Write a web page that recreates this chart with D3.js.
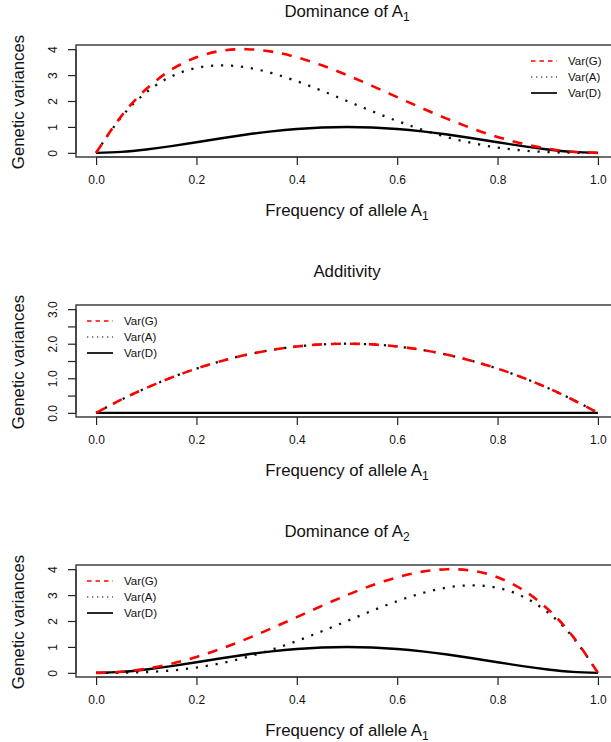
<!DOCTYPE html>
<html>
<head>
<meta charset="utf-8">
<script src="https://cdn.jsdelivr.net/npm/d3@7"></script>
<style>
  body { margin: 0; background: #fff; }
  svg { display: block; font-family: "Liberation Sans", Arial, sans-serif; }
</style>
</head>
<body>
<svg id="chart" width="611" height="742"></svg>
<script>
// ---- Data ----
const freq = [0,0.05,0.1,0.15,0.2,0.25,0.3,0.35,0.4,0.45,0.5,0.55,0.6,0.65,0.7,0.75,0.8,0.85,0.9,0.95,1];

const dom1VarG = [0,1.408,2.462,3.208,3.686,3.938,3.998,3.904,3.686,3.376,3.000,2.584,2.150,1.720,1.310,0.938,0.614,0.352,0.158,0.040,0];
const dom1VarA = [0,1.372,2.333,2.948,3.277,3.375,3.293,3.076,2.765,2.396,2.000,1.604,1.229,0.892,0.605,0.375,0.205,0.092,0.029,0.004,0];
const dom1VarD = [0,0.036,0.130,0.260,0.410,0.563,0.706,0.828,0.922,0.980,1.000,0.980,0.922,0.828,0.706,0.563,0.410,0.260,0.130,0.036,0];

const addVarG = [0,0.38,0.72,1.02,1.28,1.50,1.68,1.82,1.92,1.98,2.00,1.98,1.92,1.82,1.68,1.50,1.28,1.02,0.72,0.38,0];
const addVarA = [0,0.38,0.72,1.02,1.28,1.50,1.68,1.82,1.92,1.98,2.00,1.98,1.92,1.82,1.68,1.50,1.28,1.02,0.72,0.38,0];
const addVarD = [0,0,0,0,0,0,0,0,0,0,0,0,0,0,0,0,0,0,0,0,0];

const dom2VarG = [0,0.040,0.158,0.352,0.614,0.938,1.310,1.720,2.150,2.584,3.000,3.376,3.686,3.904,3.998,3.938,3.686,3.208,2.462,1.408,0];
const dom2VarA = [0,0.004,0.029,0.092,0.205,0.375,0.605,0.892,1.229,1.604,2.000,2.396,2.765,3.076,3.293,3.375,3.277,2.948,2.333,1.372,0];
const dom2VarD = [0,0.036,0.130,0.260,0.410,0.563,0.706,0.828,0.922,0.980,1.000,0.980,0.922,0.828,0.706,0.563,0.410,0.260,0.130,0.036,0];

const xTicks = [0,0.2,0.4,0.6,0.8,1.0];
const yTicks4 = [0,1,2,3,4];
const yTicks3 = [0,0.5,1,1.5,2,2.5,3];
const yLabels3 = [0,1,2,3];
const legendNames = ["Var(G)","Var(A)","Var(D)"];

const panels = [
  {title:"Dominance of A", sub:"1", ymax:4, ticks:yTicks4, labels:yTicks4, fmt:d3.format("d"),
   G:dom1VarG, A:dom1VarA, D:dom1VarD, legend:"right"},
  {title:"Additivity", sub:null, ymax:3, ticks:yTicks3, labels:yLabels3, fmt:d3.format(".1f"),
   G:addVarG, A:addVarA, D:addVarD, legend:"left"},
  {title:"Dominance of A", sub:"2", ymax:4, ticks:yTicks4, labels:yTicks4, fmt:d3.format("d"),
   G:dom2VarG, A:dom2VarA, D:dom2VarD, legend:"left"}
];

// ---- Layout ----
const svg = d3.select("#chart");
const boxL = 76, boxR = 618, boxH = 112, step = 260, boxTop0 = 45;
const styles = {
  G: {color:"#ff0000", dash:"10,9", w:2.6},
  A: {color:"#111", dash:"2.2,7.8", w:2.3},
  D: {color:"#000", dash:null, w:2.4}
};
const bigFont = 16.8, subFont = 12;

const x = d3.scaleLinear().domain([-0.04, 1.04]).range([boxL, boxR]);

panels.forEach((pn, i) => {
  const off = i * step;
  const top = boxTop0 + off, bottom = top + boxH;
  const y = d3.scaleLinear().domain([-0.04*pn.ymax, 1.04*pn.ymax]).range([bottom, top]);
  const g = svg.append("g");

  const cid = "clip" + i;
  svg.append("clipPath").attr("id", cid).append("rect")
    .attr("x", boxL).attr("y", top).attr("width", boxR - boxL).attr("height", boxH);

  // title
  const t = g.append("text").attr("x", (boxL + boxR) / 2).attr("y", 17 + off)
    .attr("text-anchor", "middle").attr("font-size", bigFont).attr("fill", "#111").text(pn.title);
  if (pn.sub) t.append("tspan").attr("font-size", subFont).attr("dy", 3.5).text(pn.sub);

  // x axis
  const xa = g.append("g").attr("transform", `translate(0,${bottom})`)
    .call(d3.axisBottom(x).tickValues(xTicks).tickFormat(d3.format(".1f")).tickSize(8).tickPadding(10));
  xa.select(".domain").attr("d", `M${x(0)},0H${x(1)}`).attr("stroke", "#222").attr("stroke-width", 1.2);
  xa.selectAll(".tick line").attr("stroke", "#222").attr("stroke-width", 1.2);
  xa.selectAll(".tick text").attr("font-size", 12).attr("fill", "#111").attr("font-family", "Liberation Sans, Arial, sans-serif");

  // x label
  const xl = g.append("text").attr("x", (boxL + boxR) / 2).attr("y", 216 + off)
    .attr("text-anchor", "middle").attr("font-size", bigFont).attr("fill", "#111").text("Frequency of allele A");
  xl.append("tspan").attr("font-size", subFont).attr("dy", 3.5).text("1");

  // y axis
  const ya = g.append("g").attr("transform", `translate(${boxL},0)`)
    .call(d3.axisLeft(y).tickValues(pn.ticks).tickFormat(d => pn.labels.includes(d) ? pn.fmt(d) : "").tickSize(8).tickPadding(0));
  ya.select(".domain").attr("d", `M0,${y(pn.ticks[0])}V${y(pn.ticks[pn.ticks.length-1])}`).attr("stroke", "#222").attr("stroke-width", 1.2);
  ya.selectAll(".tick line").attr("stroke", "#222").attr("stroke-width", 1.2);
  ya.selectAll(".tick text").attr("font-size", 12).attr("fill", "#111")
    .attr("font-family", "Liberation Sans, Arial, sans-serif")
    .attr("text-anchor", "middle").attr("dy", null).attr("dominant-baseline", "middle")
    .attr("x", null)
    .attr("transform", "translate(-22,0) rotate(-90)");

  // y label
  g.append("text").attr("transform", `translate(24,${(top + bottom) / 2 + 1}) rotate(-90)`)
    .attr("text-anchor", "middle").attr("font-size", bigFont).attr("fill", "#111").text("Genetic variances");

  // lines
  const plot = g.append("g").attr("clip-path", `url(#${cid})`);
  ["A", "D", "G"].forEach(k => {
    const st = styles[k];
    const line = d3.line().x((d, j) => x(freq[j])).y(d => y(d)).curve(d3.curveNatural);
    plot.append("path").datum(pn[k]).attr("d", line)
      .attr("fill", "none").attr("stroke", st.color).attr("stroke-width", st.w)
      .attr("stroke-dasharray", st.dash).attr("stroke-linecap", "butt");
  });

  // box
  g.append("rect").attr("x", boxL).attr("y", top).attr("width", boxR - boxL).attr("height", boxH)
    .attr("fill", "none").attr("stroke", "#333").attr("stroke-width", 1.4);

  // legend
  const lx = pn.legend === "right" ? 531 : 87;
  const lg = g.append("g");
  ["G", "A", "D"].forEach((k, j) => {
    const yy = top + 16 + j * 16;
    const st = styles[k];
    lg.append("line").attr("x1", lx).attr("x2", lx + 26).attr("y1", yy).attr("y2", yy)
      .attr("stroke", k === "A" ? "#555" : st.color).attr("stroke-width", k === "D" ? 1.7 : 1.5)
      .attr("stroke-dasharray", k === "G" ? "4.5,4" : (k === "A" ? "1.3,3.7" : null));
    lg.append("text").attr("x", lx + 37).attr("y", yy).attr("dy", "0.35em")
      .attr("font-size", 11.5).attr("fill", "#111").text(legendNames[j]);
  });
});
</script>
</body>
</html>
